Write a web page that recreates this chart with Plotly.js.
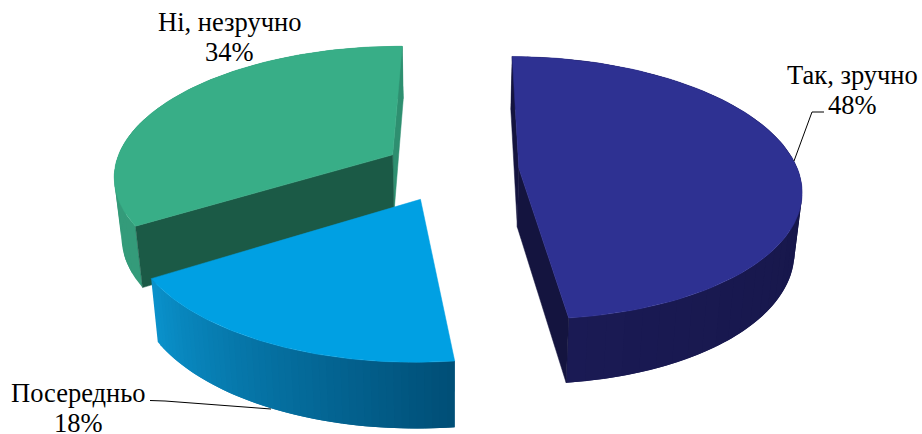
<!DOCTYPE html>
<html><head><meta charset="utf-8">
<script src="https://cdn.plot.ly/plotly-3.0.1.min.js"></script>
<style>html,body{margin:0;padding:0;background:#fff}#c{width:922px;height:434px}</style>
</head><body><div id="c"></div>
<script>
const categories = ['Так, зручно', 'Посередньо', 'Ні, незручно'];
const shares = [48, 18, 34];

const topColors = ['#2E3192', '#00A0E3', '#38AE87'];
const labelX = [852, 78, 229];
const labelNameY = [75, 393, 22];
const labelPctY = [105, 423, 52];

// projection of the tilted, exploded disc
const cx = 451, cy = 170, R = 279, Rk = 129, persp = 0.149, pull = 0.244, depth = 59, rot = 0.5 * Math.PI / 180;
function proj(X, V, z) {
  const s = 1 / (1 - persp * V);
  let x = cx + R * X * s, y = cy + Rk * V * s;
  if (z) { x = cx + (x - cx) * 0.978; y += depth * (1 + 0.1 * V); }
  return [x, y];
}
const total = shares.reduce((a, b) => a + b, 0);
let acc = 0;
const slices = shares.map(v => {
  const a0 = rot + acc / total * 2 * Math.PI; acc += v;
  const a1 = rot + acc / total * 2 * Math.PI;
  const m = (a0 + a1) / 2;
  return { a0, a1, ox: pull * Math.sin(m), ov: -pull * Math.cos(m) };
});
const rim = (sl, a, z) => proj(sl.ox + Math.sin(a), sl.ov - Math.cos(a), z);
const apex = (sl, z) => proj(sl.ox, sl.ov, z);

const traces = [];
function poly(pts, color, lw) {
  const c = pts.concat([pts[0]]);
  traces.push({ type: 'scatter', mode: 'lines', x: c.map(p => p[0]), y: c.map(p => p[1]),
    fill: 'toself', fillcolor: color, line: { color, width: lw }, hoverinfo: 'skip', showlegend: false });
}
function mix(c1, c2, t) {
  const r = i => Math.round(c1[i] + (c2[i] - c1[i]) * t);
  return `rgb(${r(0)},${r(1)},${r(2)})`;
}
function wall(sl, from, to, c1, c2, n) {
  // each band runs on under the next one, so no seams show between them
  const step = (to - from) / n;
  for (let i = 0; i < n; i++) {
    const a = from + step * i;
    const b = i < n - 2 ? a + 2 * step : to;
    const pts = [];
    for (let k = 0; k <= 6; k++) pts.push(rim(sl, a + (b - a) * k / 6, 0));
    for (let k = 6; k >= 0; k--) pts.push(rim(sl, a + (b - a) * k / 6, 1));
    poly(pts, mix(c1, c2, (i + 0.5) / n), 0);
  }
}
function sideFace(sl, a, color) {
  poly([apex(sl, 0), rim(sl, a, 0), rim(sl, a, 1), apex(sl, 1)], color, 0.5);
}
function topFace(sl, color) {
  const pts = [apex(sl, 0)];
  const n = 90;
  for (let i = 0; i <= n; i++) pts.push(rim(sl, sl.a0 + (sl.a1 - sl.a0) * i / n, 0));
  poly(pts, color, 0.5);
}
const [navy, sky, green] = slices;

// green slice (back)
wall(green, green.a0, green.a1, [52, 155, 122], [52, 155, 122], 20);
sideFace(green, green.a1, '#2E8F70');
sideFace(green, green.a0, '#1B5A46');
topFace(green, topColors[2]);
// sky slice
wall(sky, sky.a1, sky.a0, [10, 146, 204], [0, 78, 118], 50);
topFace(sky, topColors[1]);
// navy slice
wall(navy, navy.a0, navy.a1, [18, 18, 60], [26, 26, 84], 50);
sideFace(navy, navy.a0, '#14143F');
sideFace(navy, navy.a1, '#14143F');
topFace(navy, topColors[0]);

// leader lines
const leaders = [
  { x: [794, 812, 824], y: [161, 112, 112] },
  { x: [150, 165, 271], y: [400.5, 401, 409] }
];
leaders.forEach(l => traces.push({ type: 'scatter', mode: 'lines', x: l.x, y: l.y,
  line: { color: '#000', width: 1 }, hoverinfo: 'skip', showlegend: false }));

const labelFont = { family: 'Liberation Serif', size: 26.5, color: '#000' };
const annotations = [];
categories.forEach((c, i) => {
  annotations.push({ x: labelX[i], y: labelNameY[i], xref: 'x', yref: 'y', showarrow: false, text: c, font: labelFont });
  annotations.push({ x: labelX[i], y: labelPctY[i], xref: 'x', yref: 'y', showarrow: false, text: shares[i] + '%', font: labelFont });
});

Plotly.newPlot('c', traces, {
  width: 922, height: 434, margin: { l: 0, r: 0, t: 0, b: 0 },
  paper_bgcolor: '#fff', plot_bgcolor: '#fff', showlegend: false,
  xaxis: { range: [0, 922], visible: false, fixedrange: true },
  yaxis: { range: [434, 0], visible: false, fixedrange: true },
  annotations
}, { displayModeBar: false, staticPlot: true });
</script></body></html>
